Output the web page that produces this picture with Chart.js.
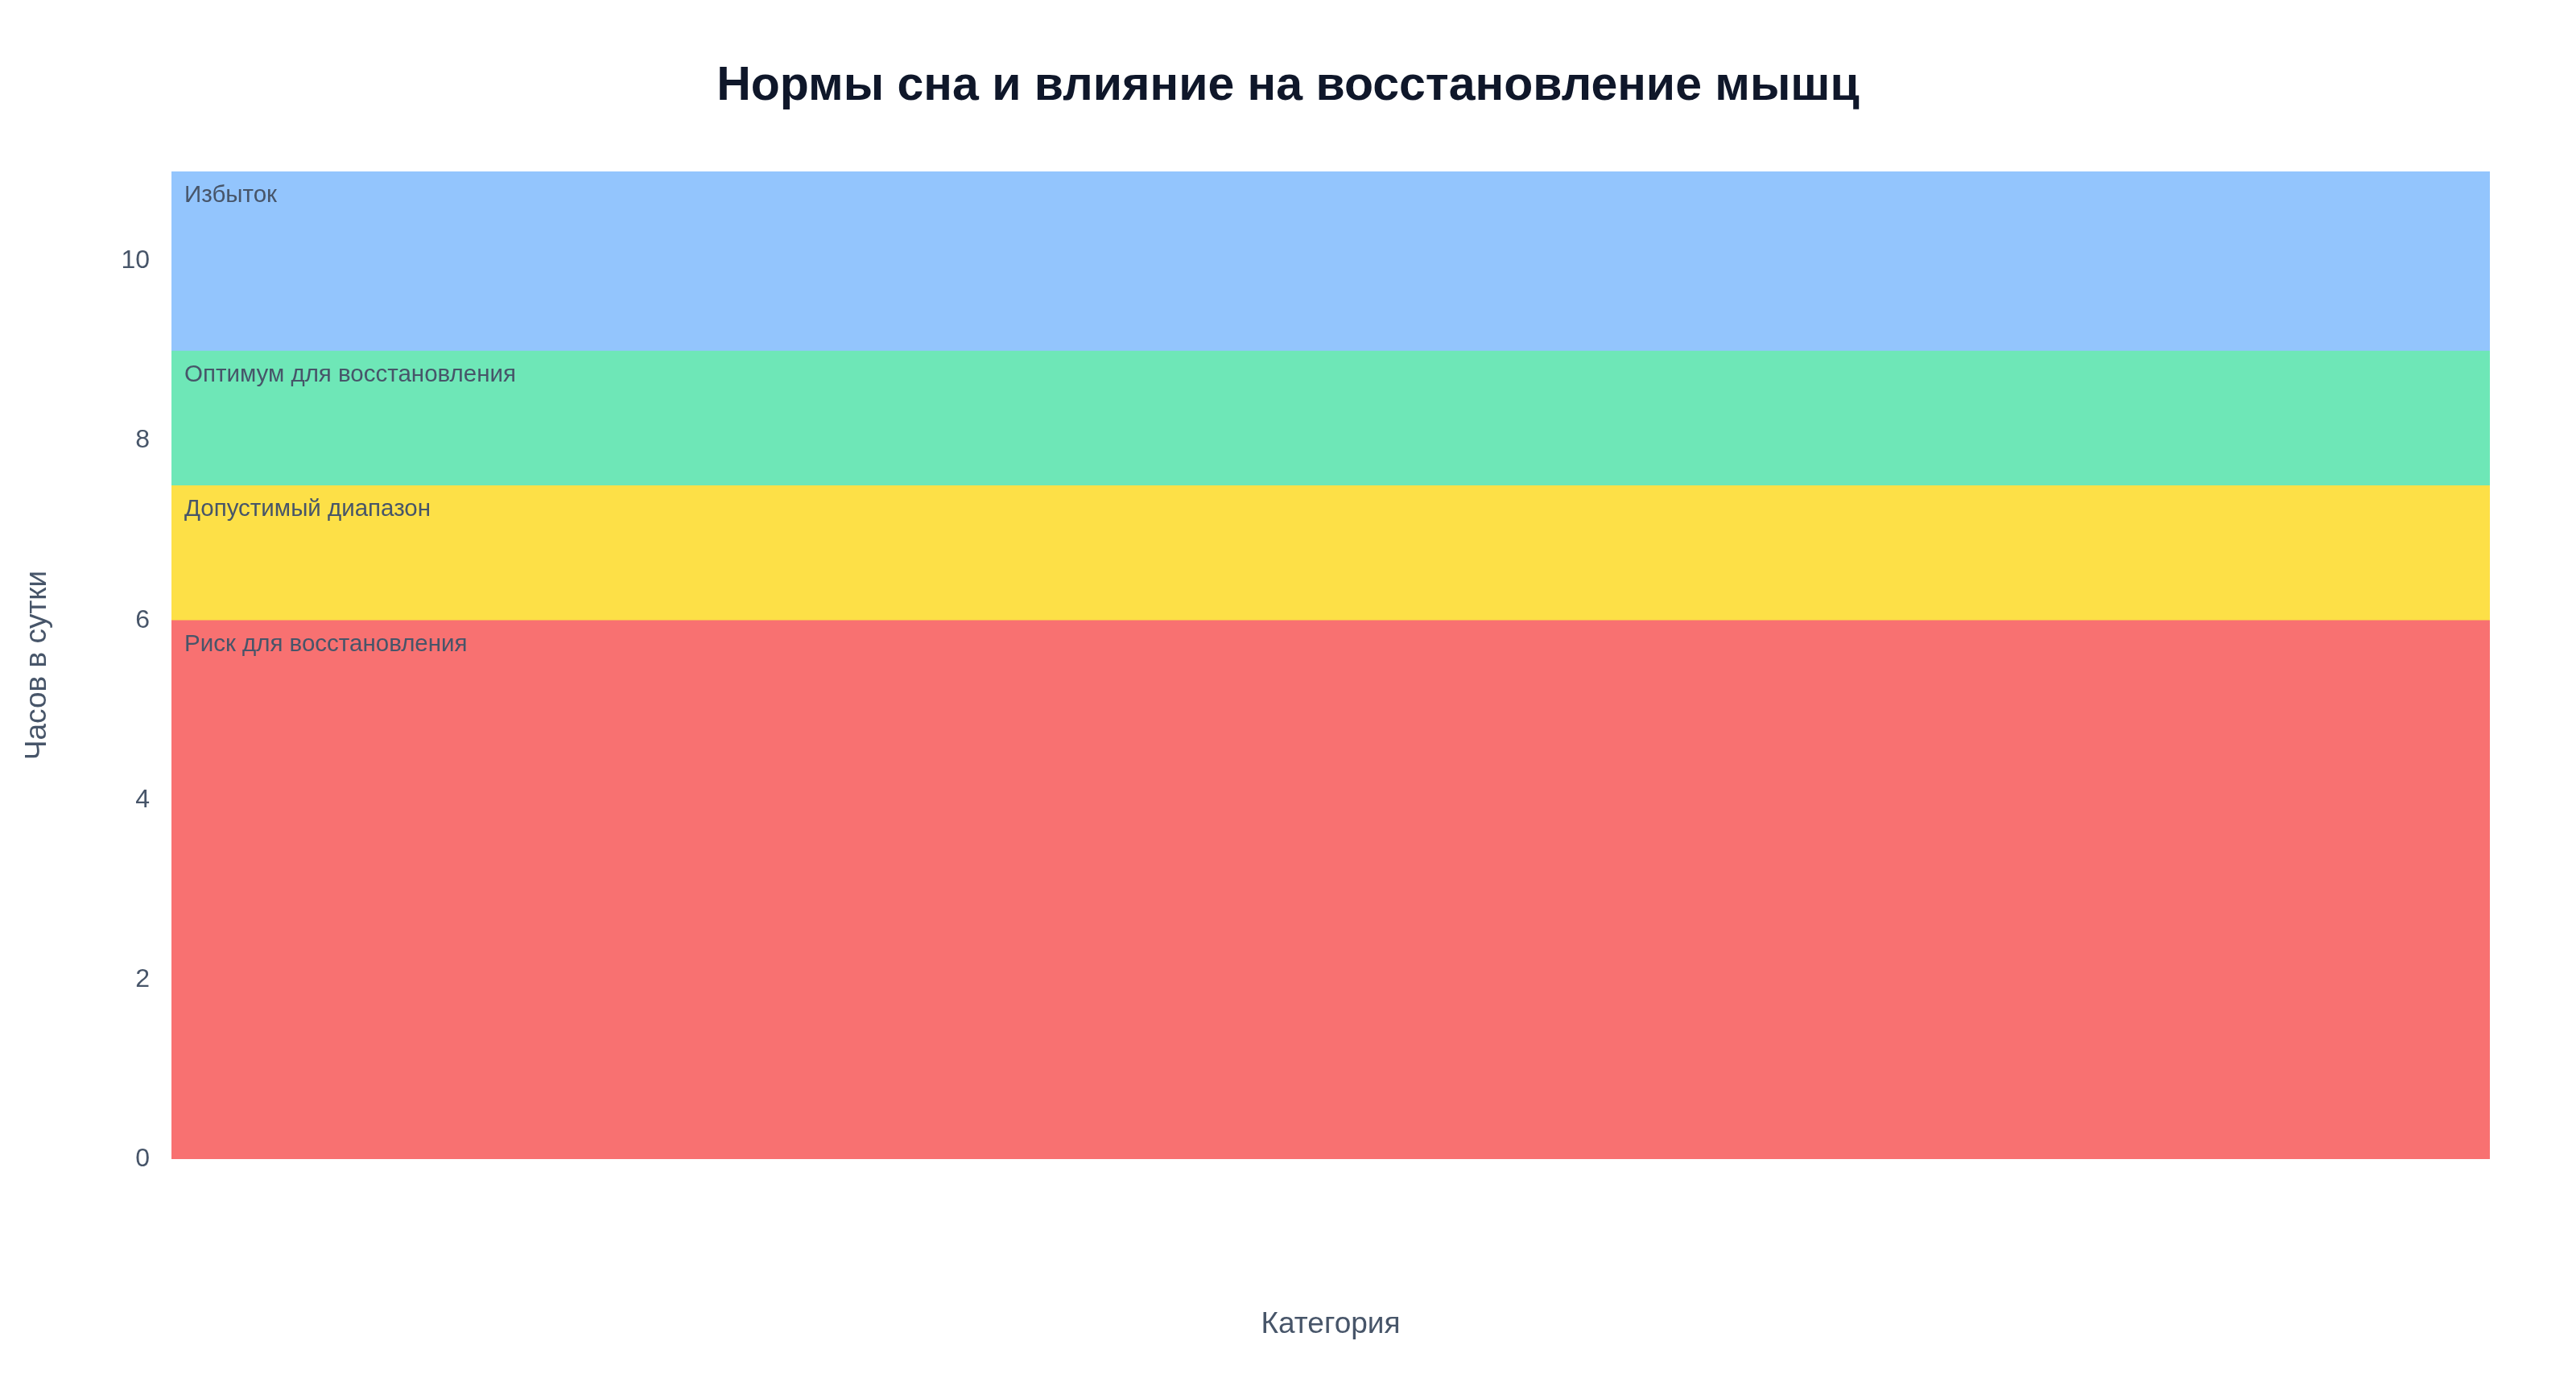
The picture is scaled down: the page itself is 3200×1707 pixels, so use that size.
<!DOCTYPE html>
<html lang="ru">
<head>
<meta charset="utf-8">
<title>Нормы сна и влияние на восстановление мышц</title>
<script src="https://cdn.jsdelivr.net/npm/chart.js@4.4.1/dist/chart.umd.min.js"></script>
<style>
    html, body { margin: 0; padding: 0; background: #ffffff; }
    #sleepChart { display: block; }
</style>
</head>
<body>
<canvas id="sleepChart" width="3200" height="1707"></canvas>
<script>
// Chart data
const categories = [''];
const bandNames = ['Риск для восстановления', 'Допустимый диапазон', 'Оптимум для восстановления', 'Избыток'];
const bandLow = [0, 6, 7.5, 9];
const bandHigh = [6, 7.5, 9, 11];
const bandColors = ['#f87171', '#fde047', '#6ee7b7', '#93c5fd'];
const yTicks = [0, 2, 4, 6, 8, 10];

const chartTitle = 'Нормы сна и влияние на восстановление мышц';
const xTitle = 'Категория';
const yTitle = 'Часов в сутки';

const FONT = '"Liberation Sans", Arial, Helvetica, sans-serif';
const TEXT_COLOR = '#475569';

// Title, axis titles and band labels
const textPlugin = {
    id: 'textPlugin',
    afterDatasetsDraw(chart) {
        const ctx = chart.ctx;
        const area = chart.chartArea;
        const yScale = chart.scales.y;

        ctx.save();

        // band labels at the top left of each band
        ctx.fillStyle = TEXT_COLOR;
        ctx.font = '29.5px ' + FONT;
        ctx.textAlign = 'left';
        ctx.textBaseline = 'alphabetic';
        bandNames.forEach(function(name, i) {
            const top = yScale.getPixelForValue(bandHigh[i]);
            ctx.fillText(name, area.left + 16, top + 38);
        });

        // chart title
        ctx.fillStyle = '#0f172a';
        ctx.font = 'bold 59px ' + FONT;
        ctx.textAlign = 'center';
        ctx.textBaseline = 'middle';
        ctx.fillText(chartTitle, chart.width / 2, 108);

        // x axis title
        ctx.fillStyle = TEXT_COLOR;
        ctx.font = '37px ' + FONT;
        ctx.fillText(xTitle, (area.left + area.right) / 2, 1646);

        // y axis title
        ctx.translate(47, (area.top + area.bottom) / 2);
        ctx.rotate(-Math.PI / 2);
        ctx.fillText(yTitle, 0, 0);

        ctx.restore();
    }
};

document.addEventListener('DOMContentLoaded', function() {
    const ctx = document.getElementById('sleepChart').getContext('2d');

    const datasets = bandNames.map(function(name, i) {
        return {
            label: name,
            data: [[bandLow[i], bandHigh[i]]],
            backgroundColor: bandColors[i],
            borderWidth: 0,
            barPercentage: 1,
            categoryPercentage: 1
        };
    });

    new Chart(ctx, {
        type: 'bar',
        data: {
            labels: categories,
            datasets: datasets
        },
        options: {
            responsive: false,
            animation: false,
            devicePixelRatio: 1,
            layout: {
                padding: { top: 213, right: 107, bottom: 0, left: 0 }
            },
            plugins: {
                legend: { display: false },
                title: { display: false },
                tooltip: { enabled: false }
            },
            scales: {
                x: {
                    stacked: true,
                    grid: { display: false, drawTicks: false },
                    border: { display: false },
                    ticks: { display: false },
                    afterFit: function(scale) { scale.height = 267; }
                },
                y: {
                    min: 0,
                    max: 11,
                    grid: { display: false, drawTicks: false },
                    border: { display: false },
                    afterBuildTicks: function(scale) {
                        scale.ticks = yTicks.map(function(v) { return { value: v }; });
                    },
                    ticks: {
                        padding: 27,
                        color: TEXT_COLOR,
                        font: { family: FONT, size: 32 }
                    },
                    afterFit: function(scale) { scale.width = 213; }
                }
            }
        },
        plugins: [textPlugin]
    });
});
</script>
</body>
</html>
